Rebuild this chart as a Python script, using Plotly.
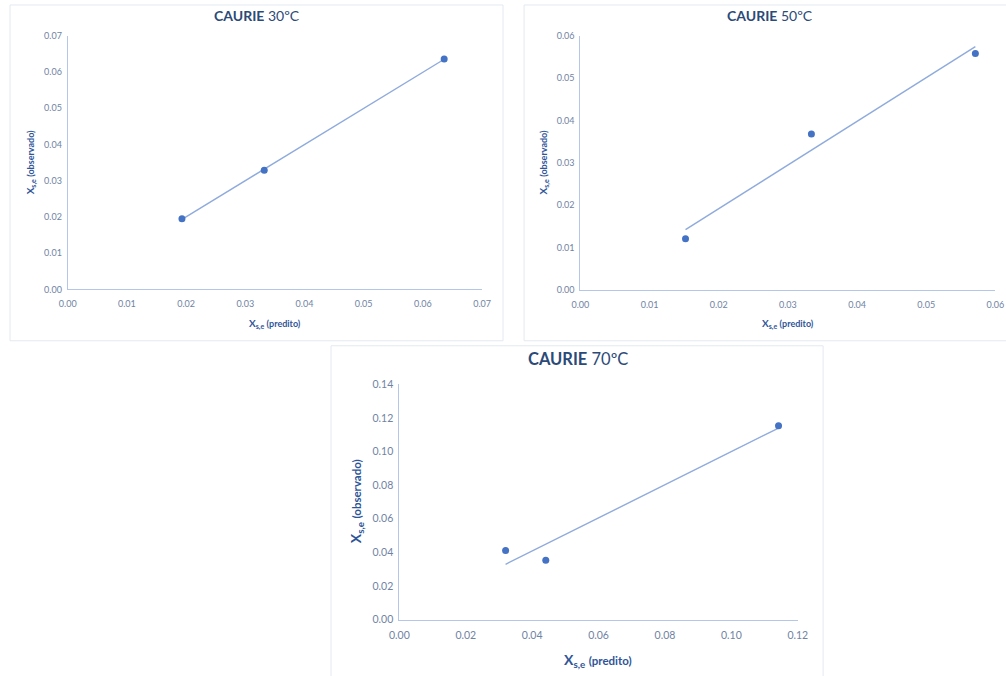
import numpy as np
import plotly.graph_objects as go

# ---- data ----
titles_bold = ["CAURIE", "CAURIE", "CAURIE"]
titles_temp = ["30ºC", "50ºC", "70ºC"]

x30 = [0.0193, 0.0332, 0.0636]
y30 = [0.0195, 0.0329, 0.0636]

x50 = [0.0152, 0.0334, 0.0571]
y50 = [0.0121, 0.0368, 0.0558]

x70 = [0.0320, 0.0441, 0.1142]
y70 = [0.0411, 0.0353, 0.1153]

x_label = "predito"
y_label = "observado"

# ---- style ----
W, H = 1006, 676
marker_color = "#4472C4"
trend_color = "#8FAADC"
axis_color = "#B4C7E7"
tick_color = "#6F83A3"
title_color = "#2C4A77"
label_color = "#2F5597"
font_family = "Lato, 'Open Sans', sans-serif"

# the viewer shows the page slightly scaled/offset; compensate
S, OX, OY = 0.98, 9.0, 6.0

def px(x):
    return ((x - OX) / S) / W

def py(y):
    return 1 - ((y - OY) / S) / H

panels = [
    dict(x=x30, y=y30, xd=[66.7, 481], yd=[288.7, 35.7], xr=[0, 0.07], yr=[0, 0.07],
         dt=0.01, tf=9, title_xy=(256, 15), tsize=14, xt_xy=(274, 323), yt_xy=(30, 162),
         big=10, small=9, box=(9, 5, 502, 340)),
    dict(x=x50, y=y50, xd=[579.3, 994.3], yd=[289.3, 35.7], xr=[0, 0.06], yr=[0, 0.06],
         dt=0.01, tf=9, title_xy=(769, 15), tsize=14, xt_xy=(787, 323), yt_xy=(543, 162),
         big=10, small=9, box=(523, 5, 1012, 340)),
    dict(x=x70, y=y70, xd=[398.3, 796.7], yd=[618.3, 383.3], xr=[0, 0.12], yr=[0, 0.14],
         dt=0.02, tf=10.5, title_xy=(577, 358), tsize=16.5, xt_xy=(597, 659), yt_xy=(355, 500),
         big=14, small=11.5, box=(330, 345, 822, 682)),
]

fig = go.Figure()
shapes = []
annotations = []

for i, p in enumerate(panels, start=1):
    sfx = "" if i == 1 else str(i)
    xa = "x" + sfx
    ya = "y" + sfx
    xs = np.array(p["x"])
    ys = np.array(p["y"])
    m, b = np.polyfit(xs, ys, 1)
    xl = np.array([xs.min(), xs.max()])
    fig.add_trace(go.Scatter(x=xl, y=m * xl + b, mode="lines",
                             line=dict(color=trend_color, width=1.4),
                             xaxis=xa, yaxis=ya, showlegend=False, hoverinfo="skip"))
    fig.add_trace(go.Scatter(x=xs, y=ys, mode="markers",
                             marker=dict(color=marker_color, size=7),
                             xaxis=xa, yaxis=ya, showlegend=False))
    common = dict(showgrid=False, zeroline=False, showline=True, linecolor=axis_color,
                  linewidth=1, tickformat=".2f", dtick=p["dt"], tick0=0,
                  tickfont=dict(size=p["tf"], color=tick_color, family=font_family),
                  ticks="outside", tickcolor="rgba(0,0,0,0)", fixedrange=True)
    fig.layout["xaxis" + sfx] = dict(domain=[px(p["xd"][0]), px(p["xd"][1])], range=p["xr"],
                                     anchor=ya, ticklen=6, **common)
    fig.layout["yaxis" + sfx] = dict(domain=[py(p["yd"][0]), py(p["yd"][1])], range=p["yr"],
                                     anchor=xa, ticklen=3, **common)
    bx0, by0, bx1, by1 = p["box"]
    shapes.append(dict(type="rect", xref="paper", yref="paper",
                       x0=px(bx0), x1=px(bx1), y0=py(by1), y1=py(by0),
                       line=dict(color="#E3E9F0", width=1), fillcolor="rgba(0,0,0,0)", layer="below"))
    tx, ty = p["title_xy"]
    annotations.append(dict(xref="paper", yref="paper", x=px(tx), y=py(ty), showarrow=False,
                            xanchor="center", yanchor="middle",
                            text=f"<b>{titles_bold[i-1]}</b> {titles_temp[i-1]}",
                            font=dict(size=p["tsize"], color=title_color, family=font_family)))
    xx, xy = p["xt_xy"]
    annotations.append(dict(xref="paper", yref="paper", x=px(xx), y=py(xy), showarrow=False,
                            xanchor="center", yanchor="middle",
                            text=f"<b>X<sub>s,e</sub> <span style='font-size:{p['small']}px'>({x_label})</span></b>",
                            font=dict(size=p["big"], color=label_color, family=font_family)))
    yx, yy = p["yt_xy"]
    annotations.append(dict(xref="paper", yref="paper", x=px(yx), y=py(yy), showarrow=False,
                            xanchor="center", yanchor="middle", textangle=-90,
                            text=f"<b>X<sub>s,e</sub> <span style='font-size:{p['small']}px'>({y_label})</span></b>",
                            font=dict(size=p["big"], color=label_color, family=font_family)))

fig.update_layout(width=W, height=H, margin=dict(l=0, r=0, t=0, b=0),
                  paper_bgcolor="white", plot_bgcolor="white",
                  shapes=shapes, annotations=annotations,
                  font=dict(family=font_family))

fig.write_html("out.html", config={"displayModeBar": False},
               post_script="document.body.style.margin='0';document.body.style.overflow='hidden';")
